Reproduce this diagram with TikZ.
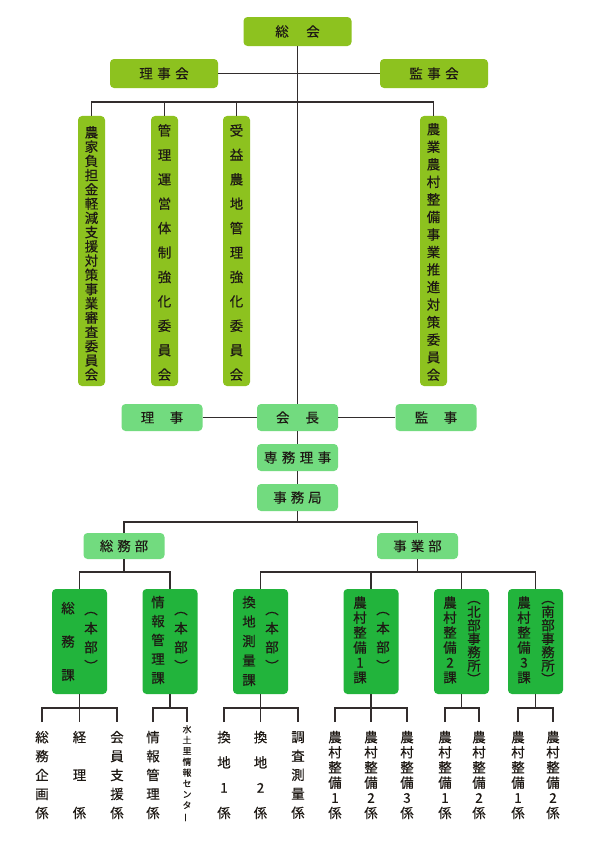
\documentclass[tikz,border=0pt]{standalone}
\usepackage{fontspec}
\usepackage{graphicx}
\setmainfont{Noto Sans CJK JP}[FakeBold=0.3]
\definecolor{topg}{RGB}{141,194,31}
\definecolor{midg}{RGB}{114,219,127}
\definecolor{botg}{RGB}{34,180,60}
\definecolor{ln}{RGB}{50,45,45}
\definecolor{tx}{RGB}{30,25,20}
\tikzset{
  box/.style={rectangle, rounded corners=4bp, inner sep=0, text=tx},
  topbox/.style={box, fill=topg, minimum width=108bp, minimum height=29bp, font=\fontsize{13.5}{15}\selectfont},
  commbox/.style={box, fill=topg, minimum width=27bp, minimum height=270bp},
  midbox/.style={box, fill=midg, minimum width=81bp, minimum height=27bp, font=\fontsize{13.5}{15}\selectfont},
  deptbox/.style={box, fill=midg, minimum width=81bp, minimum height=26bp, font=\fontsize{13.5}{15}\selectfont},
  secbox/.style={box, fill=botg, minimum width=55bp, minimum height=105bp},
  vt/.style={inner sep=0, align=center, text=tx, font=\fontsize{13.5}{#1}\selectfont},
  vts/.style={inner sep=0, align=center, text=tx, font=\fontsize{9}{#1}\selectfont},
  conn/.style={draw=ln, line width=1.1bp},
}
\begin{document}
\begin{tikzpicture}[x=1bp, y=-1bp]
\fill[white] (0,0) rectangle (595,842);
\useasboundingbox (0,0) rectangle (595,842);
% top
\node[topbox] (soukai) at (297.5,31.5) {総\hspace{17.5bp}会};
\node[topbox] (rijikai) at (164,73.5) {理\hspace{4.5bp}事\hspace{4.5bp}会};
\node[topbox] (kanjikai) at (434,73.5) {監\hspace{4.5bp}事\hspace{4.5bp}会};
% committees
\node[commbox] (c1) at (91.5,251) {};
\node[commbox] (c2) at (164.5,251) {};
\node[commbox] (c3) at (236.5,251) {};
\node[commbox] (c4) at (433.5,251) {};
\node[vt=14.3] (c1t) at (91.5,253.5) {農\\家\\負\\担\\金\\軽\\減\\支\\援\\対\\策\\事\\業\\審\\査\\委\\員\\会};
\node[vt=24.5] (c2t) at (164.5,252.5) {管\\理\\運\\営\\体\\制\\強\\化\\委\\員\\会};
\node[vt=24.5] (c3t) at (236.5,252.5) {受\\益\\農\\地\\管\\理\\強\\化\\委\\員\\会};
\node[vt=17.6] (c4t) at (433.5,252) {農\\業\\農\\村\\整\\備\\事\\業\\推\\進\\対\\策\\委\\員\\会};
% middle
\node[midbox] (riji) at (162,417.5) {理\hspace{15.5bp}事};
\node[midbox] (kaicho) at (297.5,417.5) {会\hspace{16bp}長};
\node[midbox] (kanji) at (436,417.5) {監\hspace{15.5bp}事};
\node[midbox] (senmu) at (297.5,457.5) {専\hspace{4.5bp}務\hspace{4.5bp}理\hspace{4.5bp}事};
\node[midbox] (jimu) at (297.5,497.5) {事\hspace{4bp}務\hspace{4bp}局};
% departments
\node[deptbox] (soumubu) at (124,546) {総\hspace{4bp}務\hspace{4bp}部};
\node[deptbox] (jigyoubu) at (417.5,546) {事\hspace{4bp}業\hspace{4bp}部};
% sections
\node[secbox] (soumuka) at (79.5,641.5) {};
\node[secbox] (jouhouka) at (170,641.5) {};
\node[secbox] (kanchika) at (260.5,641.5) {};
\node[secbox] (noson1) at (371,641.5) {};
\node[secbox] (noson2) at (461.5,641.5) {};
\node[secbox] (noson3) at (535.5,641.5) {};
\node[vt=33.5] (s1a) at (68,641.5) {総\\務\\課};
\node[vt=19] (s1b) at (91,641.5) {︵\\本\\部\\︶};
\node[vt=19] (s2a) at (158,640) {情\\報\\管\\理\\課};
\node[vt=19] (s2b) at (181,641.5) {︵\\本\\部\\︶};
\node[vt=19.5] (s3a) at (249,641) {換\\地\\測\\量\\課};
\node[vt=19] (s3b) at (272,641.5) {︵\\本\\部\\︶};
\node[vt=15] (s4a) at (360,640) {農\\村\\整\\備\\1\\課};
\node[vt=19] (s4b) at (383,641.5) {︵\\本\\部\\︶};
\node[vt=15] (s5a) at (450,640) {農\\村\\整\\備\\2\\課};
\node[vt=13.5] (s5b) at (474,642.5) {︵\\北\\部\\事\\務\\所\\︶};
\node[vt=15] (s6a) at (524,640) {農\\村\\整\\備\\3\\課};
\node[vt=13.5] (s6b) at (548,642.5) {︵\\南\\部\\事\\務\\所\\︶};
% leaves
\node[vt=19] (l1) at (42,775) {総\\務\\企\\画\\係};
\node[vt=38] (l2) at (79.5,775) {経\\理\\係};
\node[vt=19] (l3) at (117,775) {会\\員\\支\\援\\係};
\node[vt=19] (l4) at (153,775) {情\\報\\管\\理\\係};
\node[vts=10.9] (l5) at (187,773.5) {水\\土\\里\\情\\報\\セ\\ン\\タ\\\rotatebox[origin=c]{90}{ー}};
\node[vt=25.33] (l6) at (224,775) {換\\地\\1\\係};
\node[vt=25.33] (l7) at (260.5,775) {換\\地\\2\\係};
\node[vt=19] (l8) at (298,775) {調\\査\\測\\量\\係};
\node[vt=15.2] (l9) at (335,775) {農\\村\\整\\備\\1\\係};
\node[vt=15.2] (l10) at (371,775) {農\\村\\整\\備\\2\\係};
\node[vt=15.2] (l11) at (407,775) {農\\村\\整\\備\\3\\係};
\node[vt=15.2] (l12) at (445,775) {農\\村\\整\\備\\1\\係};
\node[vt=15.2] (l13) at (479,775) {農\\村\\整\\備\\2\\係};
\node[vt=15.2] (l14) at (518,775) {農\\村\\整\\備\\1\\係};
\node[vt=15.2] (l15) at (553,775) {農\\村\\整\\備\\2\\係};
% coordinates
\coordinate (bc) at (297.5,102);
\coordinate (b2) at (297.5,522);
\coordinate (b3) at (124,572);
\coordinate (b4) at (417.5,572);
\coordinate (bl) at (0,722);
\coordinate (g1) at (79.5,708);
\coordinate (g2) at (170,708);
\coordinate (g3) at (260.5,708);
\coordinate (g4) at (371,708);
\coordinate (g5) at (461.5,708);
\coordinate (g6) at (535.5,708);
% connectors
\draw[conn] (soukai.south) -- (kaicho.north);
\draw[conn] (rijikai.east) -- (kanjikai.west);
\draw[conn] (c1.north) |- (bc) -| (c4.north);
\draw[conn] (c2.north) -- (c2.north |- bc);
\draw[conn] (c3.north) -- (c3.north |- bc);
\draw[conn] (riji.east) -- (kaicho.west);
\draw[conn] (kaicho.east) -- (kanji.west);
\draw[conn] (kaicho.south) -- (senmu.north);
\draw[conn] (senmu.south) -- (jimu.north);
\draw[conn] (jimu.south) -- (b2);
\draw[conn] (soumubu.north) |- (b2) -| (jigyoubu.north);
\draw[conn] (soumubu.south) -- (b3);
\draw[conn] (soumuka.north) |- (b3) -| (jouhouka.north);
\draw[conn] (jigyoubu.south) -- (b4);
\draw[conn] (kanchika.north) |- (b4) -| (noson3.north);
\draw[conn] (noson1.north) -- (noson1.north |- b4);
\draw[conn] (noson2.north) -- (noson2.north |- b4);
% leaves connectors
\draw[conn] (soumuka.south) -- (l2.north |- bl);
\draw[conn] (l1.north |- bl) |- (g1) -| (l3.north |- bl);
\draw[conn] (jouhouka.south) -- (g2);
\draw[conn] (l4.north |- bl) |- (g2) -| (l5.north |- bl);
\draw[conn] (kanchika.south) -- (l7.north |- bl);
\draw[conn] (l6.north |- bl) |- (g3) -| (l8.north |- bl);
\draw[conn] (noson1.south) -- (l10.north |- bl);
\draw[conn] (l9.north |- bl) |- (g4) -| (l11.north |- bl);
\draw[conn] (noson2.south) -- (g5);
\draw[conn] (l12.north |- bl) |- (g5) -| (l13.north |- bl);
\draw[conn] (noson3.south) -- (g6);
\draw[conn] (l14.north |- bl) |- (g6) -| (l15.north |- bl);
\end{tikzpicture}
\end{document}
